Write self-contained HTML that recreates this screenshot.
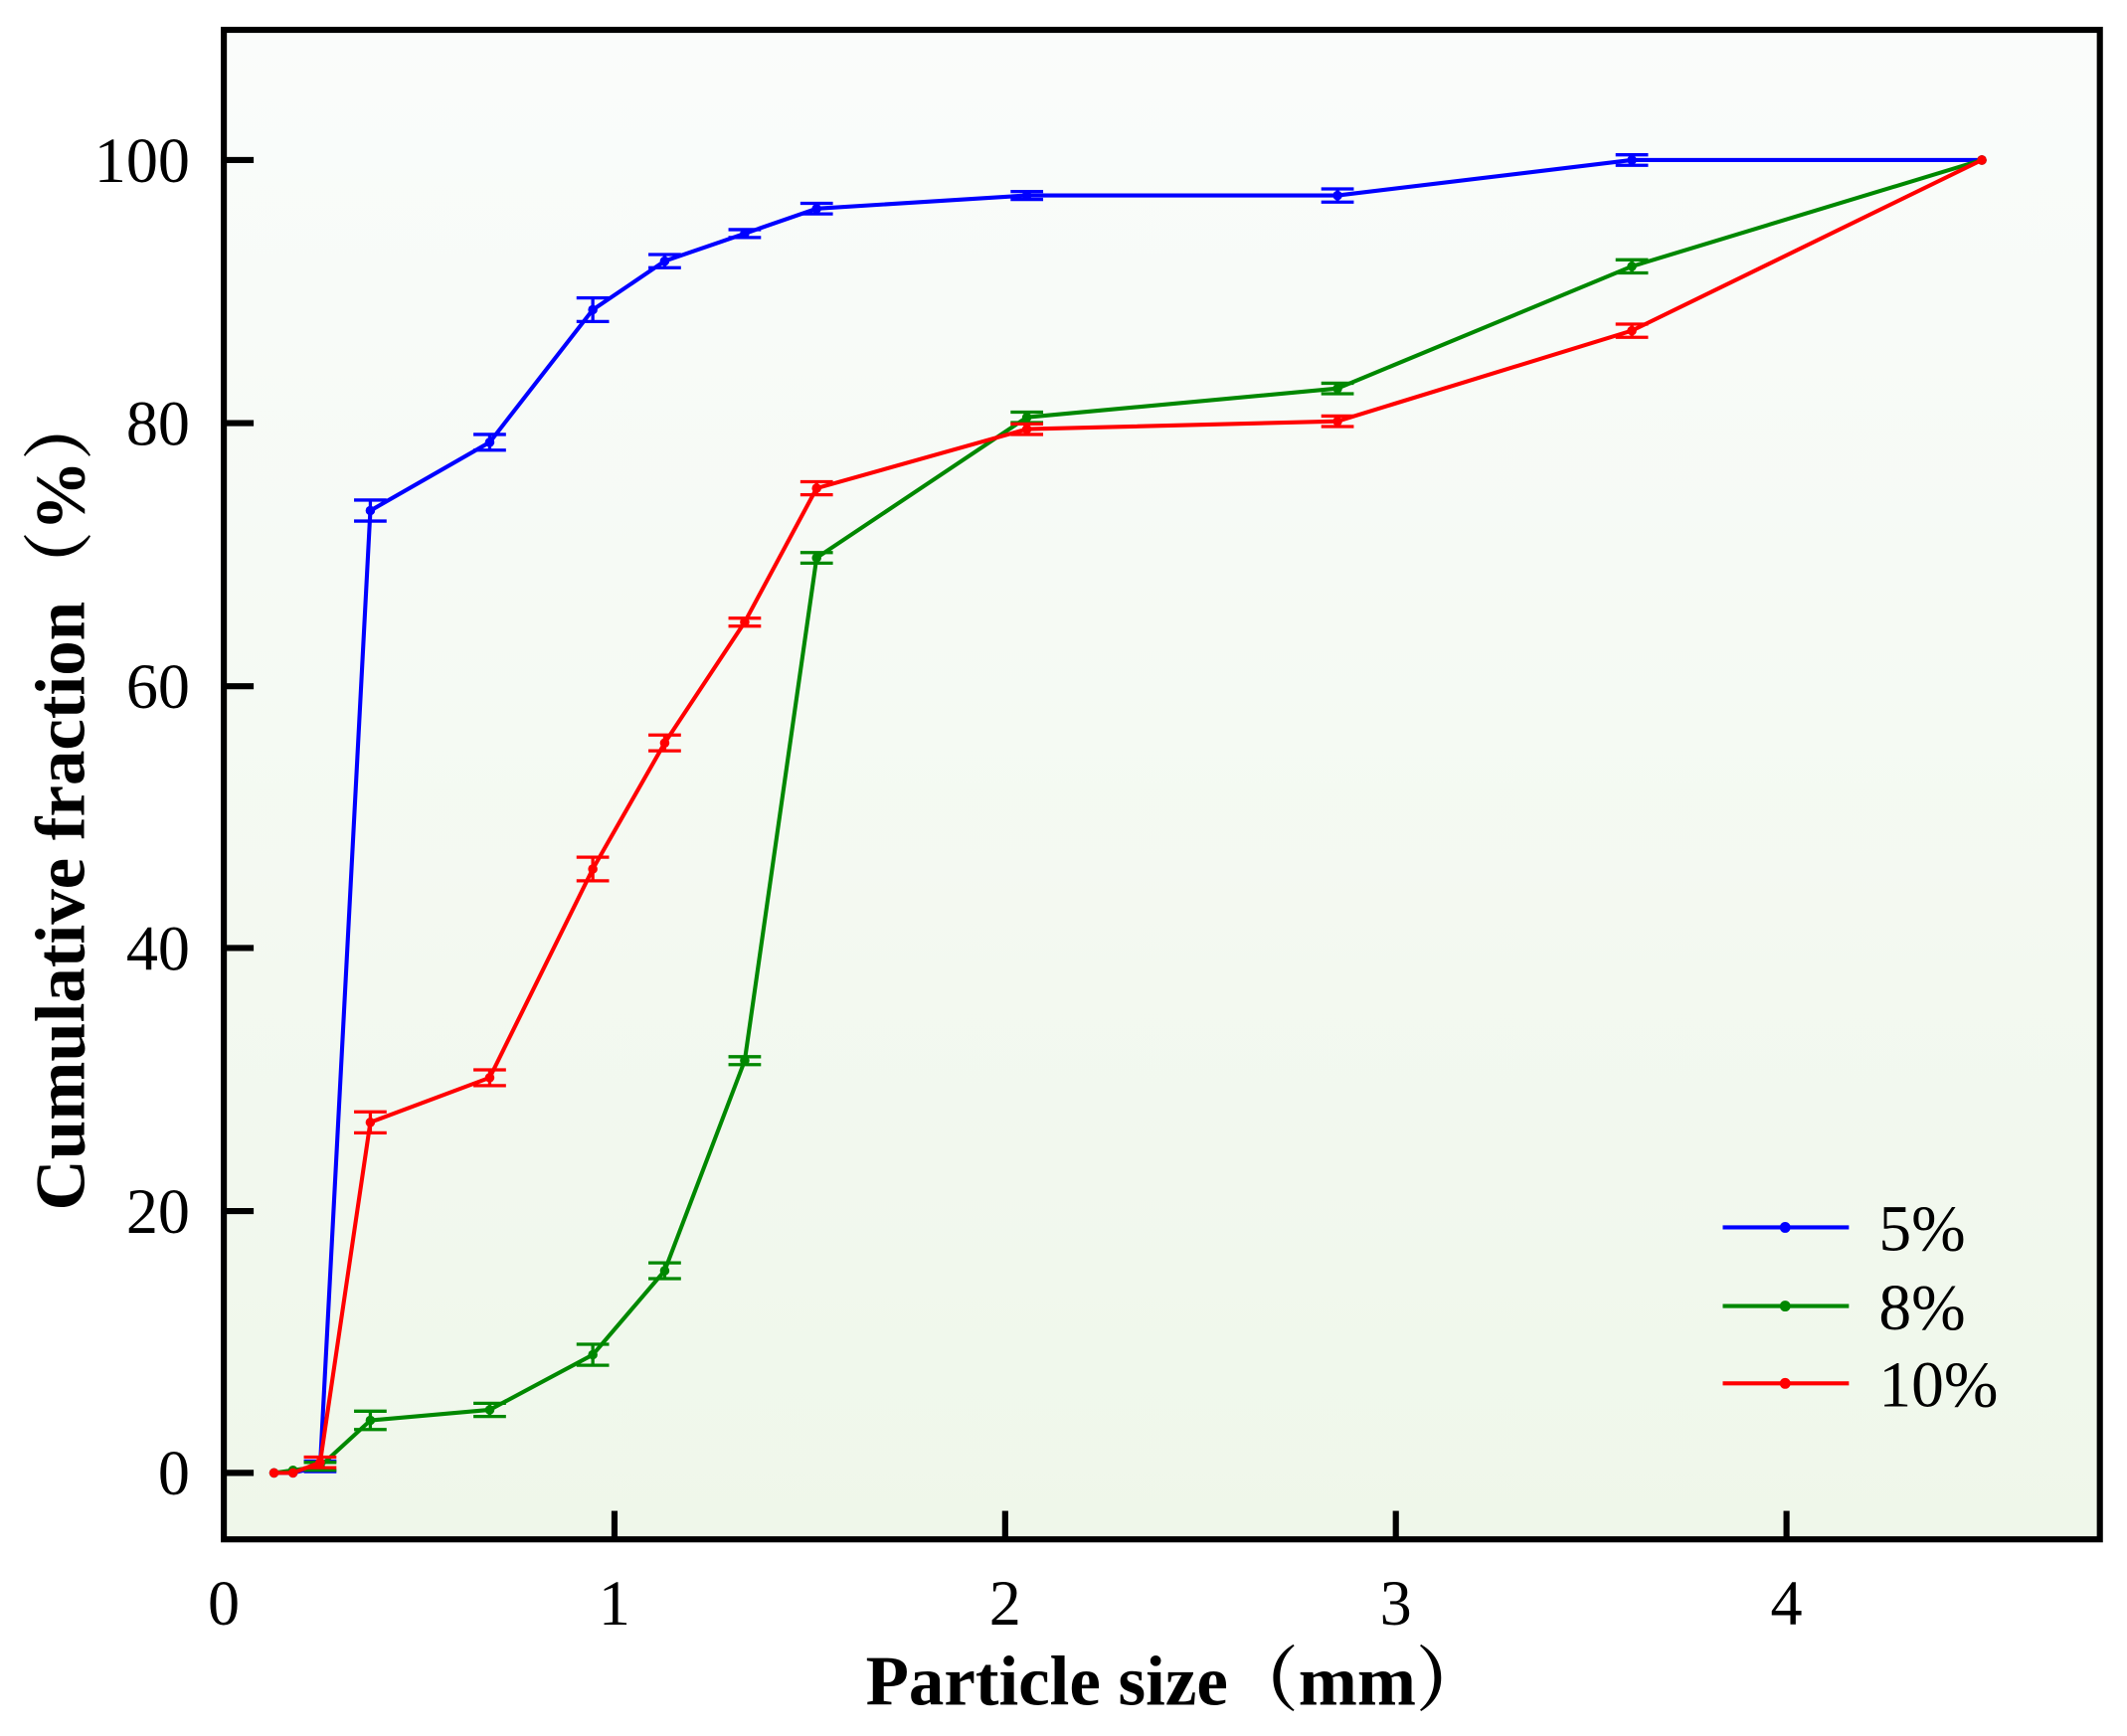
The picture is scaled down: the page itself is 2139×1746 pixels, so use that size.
<!DOCTYPE html>
<html><head><meta charset="utf-8"><style>html,body{margin:0;padding:0;background:#fff}svg{display:block}</style></head>
<body>
<svg id="s" xmlns="http://www.w3.org/2000/svg" width="2139" height="1746" viewBox="0 0 1568 1280" preserveAspectRatio="none" font-family="'Liberation Serif','Noto Serif CJK SC',serif">
<defs><linearGradient id="bg" x1="0" y1="0" x2="0" y2="1"><stop offset="0" stop-color="#fafcfb"/><stop offset="1" stop-color="#eff7ea"/></linearGradient></defs>
<rect x="165" y="22" width="1383" height="1113" fill="url(#bg)"/>
<g id="series"></g>
<rect x="165" y="22" width="1383" height="1113" fill="none" stroke="#000" stroke-width="4.5"/>
<g stroke="#000" stroke-width="4.5">
<line x1="165" y1="118" x2="187" y2="118"/><line x1="165" y1="312" x2="187" y2="312"/><line x1="165" y1="506" x2="187" y2="506"/><line x1="165" y1="699" x2="187" y2="699"/><line x1="165" y1="893" x2="187" y2="893"/><line x1="165" y1="1086" x2="187" y2="1086"/>
<line x1="453" y1="1135" x2="453" y2="1114"/><line x1="741" y1="1135" x2="741" y2="1114"/><line x1="1029" y1="1135" x2="1029" y2="1114"/><line x1="1317" y1="1135" x2="1317" y2="1114"/>
</g>
<g font-size="47" text-anchor="end" fill="#000">
<text x="140" y="134">100</text><text x="140" y="328">80</text><text x="140" y="522">60</text><text x="140" y="715">40</text><text x="140" y="909">20</text><text x="140" y="1102">0</text>
</g>
<g font-size="47" text-anchor="middle" fill="#000">
<text x="165" y="1198">0</text><text x="453" y="1198">1</text><text x="741" y="1198">2</text><text x="1029" y="1198">3</text><text x="1317" y="1198">4</text>
</g>
<text x="867" y="1257" font-size="52" font-weight="bold" text-anchor="middle">Particle size（mm）</text>
<text transform="translate(62,590) rotate(-90)" font-size="52" font-weight="bold" text-anchor="middle">Cumulative fraction（%）</text>
<g font-size="48" fill="#000">
<line x1="1270" y1="905" x2="1363" y2="905" stroke="#0000ff" stroke-width="3"/><circle cx="1316" cy="905" r="4" fill="#0000ff"/><text x="1385" y="922">5%</text>
<line x1="1270" y1="963" x2="1363" y2="963" stroke="#008800" stroke-width="3"/><circle cx="1316" cy="963" r="4" fill="#008800"/><text x="1385" y="980">8%</text>
<line x1="1270" y1="1020" x2="1363" y2="1020" stroke="#ff0000" stroke-width="3"/><circle cx="1316" cy="1020" r="4" fill="#ff0000"/><text x="1385" y="1037">10%</text>
</g>
</svg>
<script>
var xs=[202,216,236,273,361,437,490,549,602,757,986,1203,1461];
var data=[
["#0000ff",[0,0,0.5,73.3,78.5,88.6,92.3,94.4,96.3,97.3,97.3,100,100],[0,0,0.4,0.8,0.6,0.9,0.5,0.3,0.4,0.3,0.5,0.4,0]],
["#008800",[0,0.2,0.5,4,4.8,9,15.4,31.4,69.7,80.4,82.6,91.9,100],[0,0,0.3,0.7,0.5,0.8,0.6,0.3,0.4,0.4,0.4,0.5,0]],
["#ff0000",[0,0,0.8,26.7,30.1,46,55.6,64.8,75,79.5,80.1,87,100],[0,0,0.4,0.8,0.6,0.9,0.6,0.3,0.5,0.4,0.4,0.5,0]]];
var g=document.getElementById('series'),h='';
function Y(v){return 1086-v*9.68;}
data.forEach(function(d){
 var p=xs.map(function(x,i){return x+','+Y(d[1][i]).toFixed(1)}).join(' ');
 h+='<polyline points="'+p+'" fill="none" stroke="'+d[0]+'" stroke-width="3" stroke-linejoin="round"/>';
 xs.forEach(function(x,i){var y=Y(d[1][i]),e=d[2][i]*9.68;
  if(e>0){h+='<path d="M'+(x-12)+','+(y-e)+'h24M'+(x-12)+','+(y+e)+'h24M'+x+','+(y-e)+'V'+(y+e)+'" stroke="'+d[0]+'" stroke-width="2.4" fill="none"/>';}
  h+='<circle cx="'+x+'" cy="'+y+'" r="3.5" fill="'+d[0]+'"/>';});
});
g.innerHTML=h;
</script>
</body></html>
